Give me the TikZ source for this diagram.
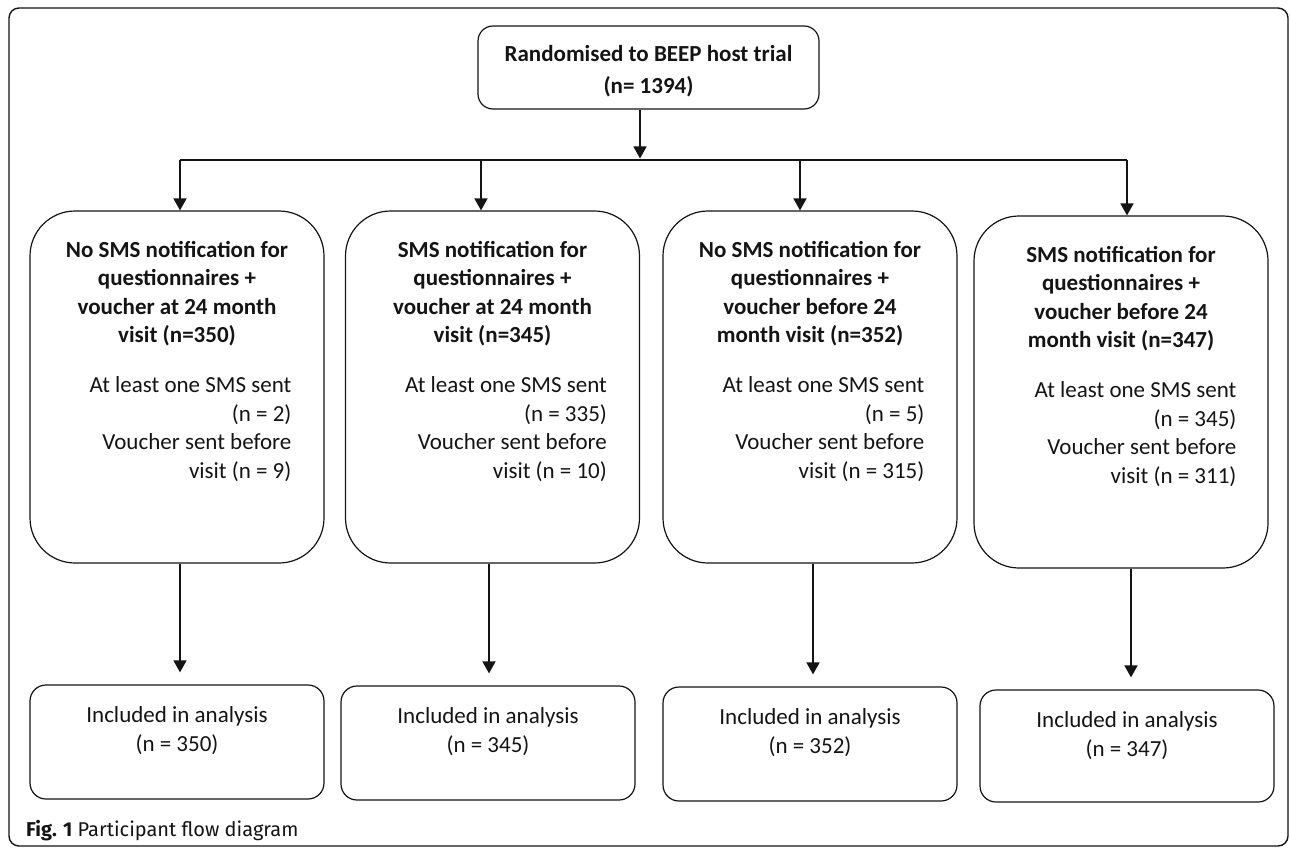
\documentclass[tikz,border=0pt]{standalone}
\usepackage{fontspec}
\setmainfont{Carlito}
\newfontfamily\capfont{Fira Sans}
\usetikzlibrary{arrows.meta}
\definecolor{ink}{HTML}{141414}
\begin{document}
\begin{tikzpicture}[x=1pt,y=-1pt,
  bigbox/.style={draw=ink, line width=1.2pt, rounded corners=45pt, minimum width=294pt, minimum height=352pt, inner sep=0pt},
  smallbox/.style={draw=ink, line width=1.2pt, rounded corners=16pt, minimum width=294pt, minimum height=114pt, inner sep=0pt},
  ttl/.style={font=\fontsize{23}{28.5}\selectfont\bfseries, text=ink, align=center, inner sep=0pt, anchor=north},
  det/.style={font=\fontsize{23}{28.6}\selectfont, text=ink, align=right, inner sep=0pt, anchor=north east},
  incl/.style={font=\fontsize{23}{29}\selectfont, text=ink, align=center, inner sep=0pt, anchor=north},
  arr/.style={draw=ink, line width=1.6pt, -{Triangle[length=12pt,width=13pt]}},
  ln/.style={draw=ink, line width=1.6pt}]

\useasboundingbox (0,0) rectangle (1290,848);
\draw[ink, line width=1.4pt, rounded corners=10pt] (9,8) rectangle (1288,846);

% top box
\node[draw=ink, line width=1.2pt, rounded corners=15pt, minimum width=341pt, minimum height=83pt, inner sep=0pt] (top) at (648.5,67.5) {};
\node[font=\fontsize{23}{32}\selectfont\bfseries, text=ink, align=center, inner sep=0pt, anchor=north] (toptxt)
      at ([yshift=-20pt]top.north) {Randomised to BEEP host trial\\(n= 1394)};

% arm boxes
\node[bigbox] (b1) at (177,387) {};
\node[bigbox] (b2) at (492.5,387) {};
\node[bigbox] (b3) at (810,387) {};
\node[bigbox] (b4) at (1121,392) {};

\node[ttl] (t1) at ([yshift=-30.5pt]b1.north) {No SMS notification for\\questionnaires +\\voucher at 24 month\\visit (n=350)};
\node[ttl] (t2) at ([yshift=-30.5pt]b2.north) {SMS notification for\\questionnaires +\\voucher at 24 month\\visit (n=345)};
\node[ttl] (t3) at ([yshift=-30.5pt]b3.north) {No SMS notification for\\questionnaires +\\voucher before 24\\month visit (n=352)};
\node[ttl] (t4) at ([yshift=-30.5pt]b4.north) {SMS notification for\\questionnaires +\\voucher before 24\\month visit (n=347)};

\node[det] (s1) at ([xshift=-33pt,yshift=-166pt]b1.north east) {At least one SMS sent\\(n = 2)\\Voucher sent before\\visit (n = 9)};
\node[det] (s2) at ([xshift=-33pt,yshift=-166pt]b2.north east) {At least one SMS sent\\(n = 335)\\Voucher sent before\\visit (n = 10)};
\node[det] (s3) at ([xshift=-33pt,yshift=-166pt]b3.north east) {At least one SMS sent\\(n = 5)\\Voucher sent before\\visit (n = 315)};
\node[det] (s4) at ([xshift=-32pt,yshift=-166pt]b4.north east) {At least one SMS sent\\(n = 345)\\Voucher sent before\\visit (n = 311)};

% analysis boxes
\node[smallbox] (r1) at (177,742) {};
\node[smallbox] (r2) at (488,743) {};
\node[smallbox] (r3) at (810,744) {};
\node[smallbox, minimum height=112pt] (r4) at (1127,746) {};

\node[incl] (i1) at ([yshift=-22pt]r1.north) {Included in analysis\\(n = 350)};
\node[incl] (i2) at ([yshift=-22pt]r2.north) {Included in analysis\\(n = 345)};
\node[incl] (i3) at ([yshift=-22pt]r3.north) {Included in analysis\\(n = 352)};
\node[incl] (i4) at ([yshift=-22pt]r4.north) {Included in analysis\\(n = 347)};

% connectors
\coordinate (bus) at (640,160);
\coordinate (c1) at (180,160);
\coordinate (c2) at (481,160);
\coordinate (c3) at (800,160);
\coordinate (c4) at (1127,160);
\coordinate (d1) at (180,600);
\coordinate (d2) at (489,600);
\coordinate (d3) at (813,600);
\coordinate (d4) at (1131,600);

\draw[arr] (top.south -| bus) -- ([yshift=1.5pt]bus);
\draw[ln] (c1) -- (c4);
\draw[arr] (c1) -- (c1 |- b1.north);
\draw[arr] (c2) -- (c2 |- b2.north);
\draw[arr] (c3) -- (c3 |- b3.north);
\draw[arr] (c4) -- (c4 |- b4.north);

\draw[arr, shorten >=12pt] (b1.south -| d1) -- (d1 |- r1.north);
\draw[arr, shorten >=12pt] (b2.south -| d2) -- (d2 |- r2.north);
\draw[arr, shorten >=12pt] (b3.south -| d3) -- (d3 |- r3.north);
\draw[arr, shorten >=12pt] (b4.south -| d4) -- (d4 |- r4.north);

% caption
\node[anchor=base west, inner sep=0pt, text=ink, font=\capfont\fontsize{20}{22}\selectfont] (cap) at (26,836)
  {\textbf{Fig. 1} Participant flow diagram};
\end{tikzpicture}
\end{document}
